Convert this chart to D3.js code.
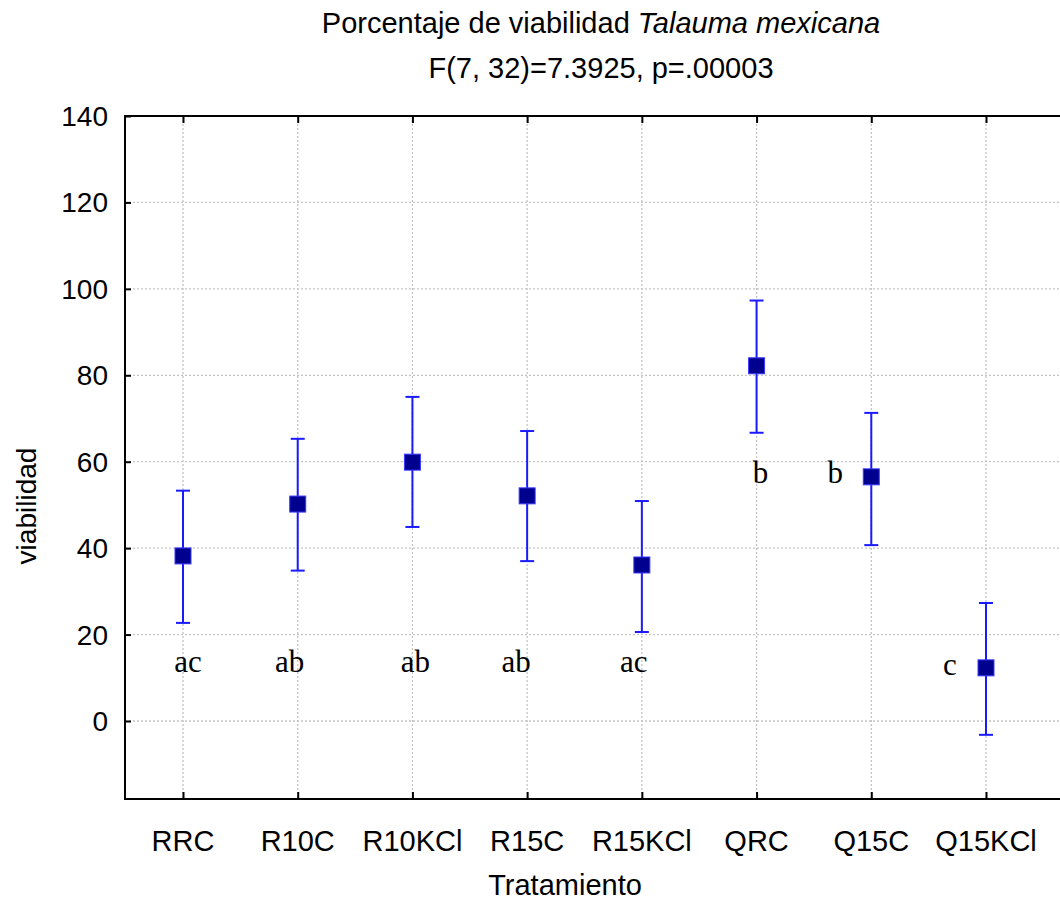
<!DOCTYPE html>
<html lang="es">
<head>
  <meta charset="UTF-8" />
  <title>Porcentaje de viabilidad Talauma mexicana</title>
  <style>
    body { margin: 0; background: #fff; }
    svg { display: block; font-family: Arial, "Liberation Sans", sans-serif; }
  </style>
</head>
<body>
  <div id="chart"></div>

  <script src="https://d3js.org/d3.v7.min.js"></script>
  <script>
    // categories and values
    const categories = ["RRC", "R10C", "R10KCl", "R15C", "R15KCl", "QRC", "Q15C", "Q15KCl"];
    const means = [38.2, 50.2, 59.9, 52.1, 36.1, 82.2, 56.5, 12.3];
    const lower = [22.7, 34.8, 44.9, 37.0, 20.6, 66.7, 40.7, -3.2];
    const upper = [53.3, 65.3, 75.0, 67.1, 50.9, 97.3, 71.3, 27.3];
    const yTicks = [0, 20, 40, 60, 80, 100, 120, 140];

    // significance letters (group, letter, value where it sits, x shift in px)
    const letterCats = ["RRC", "R10C", "R10KCl", "R15C", "R15KCl", "QRC", "Q15C", "Q15KCl"];
    const letterText = ["ac", "ab", "ab", "ab", "ac", "b", "b", "c"];
    const letterVals = [11.3, 11.3, 11.3, 11.3, 11.3, 55.0, 55.0, 10.6];
    const letterShift = [5, -8, 3, -11, -8, 4, -36, -36];

    const width = 1060, height = 907;
    const m = { left: 125, top: 116, right: 1075, bottom: 799 };

    const svg = d3.select("#chart").append("svg")
      .attr("width", width).attr("height", height);

    const x = d3.scalePoint().domain(categories).range([183, 986]);
    const y = d3.scaleLinear().domain([-18.05, 140]).range([m.bottom, m.top]);

    // grid
    const grid = svg.append("g").attr("stroke", "#c4c4c4").attr("stroke-width", 1.3)
      .attr("stroke-dasharray", "2,2");
    grid.selectAll("line.h").data(yTicks).enter().append("line")
      .attr("x1", m.left).attr("x2", m.right)
      .attr("y1", d => y(d)).attr("y2", d => y(d));
    grid.selectAll("line.v").data(categories).enter().append("line")
      .attr("x1", d => x(d)).attr("x2", d => x(d))
      .attr("y1", m.top).attr("y2", m.bottom);

    // frame
    svg.append("rect")
      .attr("x", m.left).attr("y", m.top)
      .attr("width", m.right - m.left).attr("height", m.bottom - m.top)
      .attr("fill", "none").attr("stroke", "#000").attr("stroke-width", 2);

    // axes with inward ticks
    const yAxis = svg.append("g").attr("transform", `translate(${m.left},0)`)
      .call(d3.axisRight(y).tickValues(yTicks).tickSize(6).tickFormat(""));
    yAxis.select(".domain").remove();
    yAxis.selectAll("line").attr("stroke-width", 2);
    svg.append("g").selectAll("text").data(yTicks).enter().append("text")
      .attr("x", 108).attr("y", d => y(d) + 10)
      .attr("text-anchor", "end").attr("font-size", 28).attr("fill", "#000")
      .text(d => d);

    const xAxis = svg.append("g").attr("transform", `translate(0,${m.bottom})`)
      .call(d3.axisTop(x).tickSize(7).tickFormat(""));
    xAxis.select(".domain").remove();
    xAxis.selectAll("line").attr("stroke-width", 2);
    const xTop = svg.append("g").attr("transform", `translate(0,${m.top})`)
      .call(d3.axisBottom(x).tickSize(7).tickFormat(""));
    xTop.select(".domain").remove();
    xTop.selectAll("line").attr("stroke-width", 2);

    svg.append("g").selectAll("text").data(categories).enter().append("text")
      .attr("x", d => x(d)).attr("y", 851)
      .attr("text-anchor", "middle").attr("font-size", 29).attr("fill", "#000")
      .text(d => d);

    // error bars
    const eb = svg.append("g").attr("stroke", "#1a1aff").attr("stroke-width", 2);
    categories.forEach((c, i) => {
      eb.append("line").attr("x1", x(c)).attr("x2", x(c))
        .attr("y1", y(lower[i])).attr("y2", y(upper[i]));
      eb.append("line").attr("x1", x(c) - 7).attr("x2", x(c) + 7)
        .attr("y1", y(lower[i])).attr("y2", y(lower[i]));
      eb.append("line").attr("x1", x(c) - 7).attr("x2", x(c) + 7)
        .attr("y1", y(upper[i])).attr("y2", y(upper[i]));
    });

    // mean markers
    svg.append("g").selectAll("rect").data(means).enter().append("rect")
      .attr("x", (d, i) => x(categories[i]) - 8)
      .attr("y", d => y(d) - 8)
      .attr("width", 16).attr("height", 16)
      .attr("fill", "#00008e").attr("stroke", "#3a3aff").attr("stroke-width", 1);

    // letters
    svg.append("g").selectAll("text").data(letterText).enter().append("text")
      .attr("x", (d, i) => x(letterCats[i]) + letterShift[i])
      .attr("y", (d, i) => y(letterVals[i]))
      .attr("text-anchor", "middle")
      .attr("font-family", "'Liberation Serif', 'Times New Roman', serif")
      .attr("font-size", 31).attr("fill", "#000")
      .text(d => d);

    // titles
    const t = svg.append("text").attr("x", 601).attr("y", 33)
      .attr("text-anchor", "middle").attr("font-size", 29).attr("fill", "#000");
    t.append("tspan").text("Porcentaje de viabilidad ");
    t.append("tspan").attr("font-style", "italic").text("Talauma mexicana");
    svg.append("text").attr("x", 601).attr("y", 78)
      .attr("text-anchor", "middle").attr("font-size", 29).attr("fill", "#000")
      .text("F(7, 32)=7.3925, p=.00003");

    svg.append("text").attr("x", 565).attr("y", 895)
      .attr("text-anchor", "middle").attr("font-size", 29).attr("fill", "#000")
      .text("Tratamiento");
    svg.append("text")
      .attr("transform", "translate(36,506) rotate(-90)")
      .attr("text-anchor", "middle").attr("font-size", 28).attr("fill", "#000")
      .text("viabilidad");
  </script>
</body>
</html>
